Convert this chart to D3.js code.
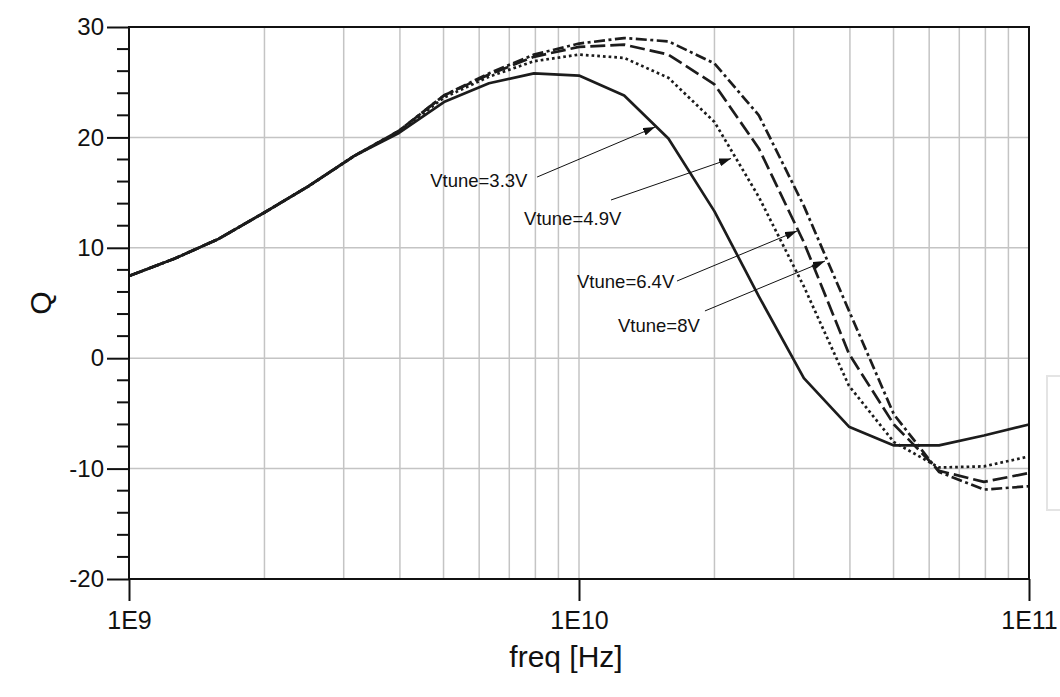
<!DOCTYPE html>
<html>
<head>
<meta charset="utf-8">
<script src="https://cdn.jsdelivr.net/npm/d3@7"></script>
<style>
  html, body { margin: 0; padding: 0; background: #fff; }
  svg { display: block; font-family: Arial, "Liberation Sans", Helvetica, sans-serif; }
</style>
</head>
<body>
<svg id="chart" width="1060" height="697"></svg>
<script>
// Sweep frequencies (Hz), 10 points per decade
const freqs = [1e9, 1.26e9, 1.58e9, 2e9, 2.51e9, 3.16e9, 3.98e9, 5.01e9, 6.31e9, 7.94e9,
               1e10, 1.26e10, 1.58e10, 2e10, 2.51e10, 3.16e10, 3.98e10, 5.01e10, 6.31e10, 7.94e10, 1e11];

// Quality factor Q for each tuning voltage
const q33 = [7.45, 9.0, 10.8, 13.2, 15.6, 18.3, 20.4, 23.2, 24.9, 25.8, 25.6, 23.8, 19.9, 13.3, 5.6, -1.8, -6.2, -7.9, -7.9, -7.0, -6.0];
const q49 = [7.45, 9.0, 10.8, 13.2, 15.6, 18.3, 20.5, 23.6, 25.5, 26.9, 27.5, 27.2, 25.4, 21.4, 14.6, 6.5, -2.5, -7.6, -9.9, -9.8, -8.9];
const q64 = [7.45, 9.0, 10.8, 13.2, 15.6, 18.3, 20.6, 23.8, 25.7, 27.3, 28.2, 28.4, 27.5, 24.8, 19.0, 10.5, 0.4, -6.0, -10.2, -11.2, -10.4];
const q80 = [7.45, 9.0, 10.8, 13.2, 15.6, 18.3, 20.6, 23.8, 25.8, 27.5, 28.5, 29.0, 28.7, 26.7, 22.0, 13.8, 4.3, -5.1, -10.3, -11.9, -11.6];

// Axis ticks and labels
const yTicks = [30, 20, 10, 0, -10, -20];
const yMinorTicks = [28, 26, 24, 22, 18, 16, 14, 12, 8, 6, 4, 2, -2, -4, -6, -8, -12, -14, -16, -18];
const yGridValues = [20, 10, 0, -10];
const xTicks = [1e9, 1e10, 1e11];
const xTickLabels = ["1E9", "1E10", "1E11"];
const xGridValues = [2e9, 3e9, 4e9, 5e9, 6e9, 7e9, 8e9, 9e9, 1e10, 2e10, 3e10, 4e10, 5e10, 6e10, 7e10, 8e10, 9e10];

// Curve annotations: arrow tip, arrow tail and label anchor in (freq, Q)
const annLabels = ["Vtune=3.3V", "Vtune=4.9V", "Vtune=6.4V", "Vtune=8V"];
const annTip  = [[1.476e10, 20.94], [2.177e10, 18.09], [3.051e10, 11.52], [3.52e10, 8.80]];
const annTail = [[8.07e9, 16.41], [1.178e10, 14.33], [1.651e10, 6.99], [1.905e10, 4.28]];
const annText = [[4.67e9, 15.51], [7.55e9, 12.07], [9.9e9, 6.36], [1.221e10, 2.37]];

const series = [
  { values: q33, dash: null },
  { values: q49, dash: "2.7,3" },
  { values: q64, dash: "15,5" },
  { values: q80, dash: "11,3.5,3,3.5" }
];

const svg = d3.select("#chart");
const plotLeft = 129, plotRight = 1029, plotTop = 27, plotBottom = 579;

const x = d3.scaleLog().domain([1e9, 1e11]).range([plotLeft, plotRight]);
const y = d3.scaleLinear().domain([-20, 30]).range([plotBottom, plotTop]);

// Partially visible legend frame at the right edge
svg.append("rect")
  .attr("x", 1047).attr("y", 376).attr("width", 40).attr("height", 134)
  .attr("fill", "#fff").attr("stroke", "#e4e4e4").attr("stroke-width", 2);

// Grid
const grid = svg.append("g").attr("stroke", "#c4c4c4").attr("stroke-width", 1.5);
grid.selectAll("line.v").data(xGridValues).join("line")
  .attr("class", "v")
  .attr("x1", d => x(d)).attr("x2", d => x(d))
  .attr("y1", plotTop).attr("y2", plotBottom);
grid.selectAll("line.h").data(yGridValues).join("line")
  .attr("class", "h")
  .attr("x1", plotLeft).attr("x2", plotRight)
  .attr("y1", d => y(d)).attr("y2", d => y(d));

// Q curves
const line = d3.line().x((d, i) => x(freqs[i])).y(d => y(d));
svg.append("g").selectAll("path").data(series).join("path")
  .attr("d", d => line(d.values))
  .attr("fill", "none")
  .attr("stroke", "#1c1c1c")
  .attr("stroke-width", 2.7)
  .attr("stroke-linejoin", "round")
  .attr("stroke-dasharray", d => d.dash);

// Frame
svg.append("rect")
  .attr("x", plotLeft).attr("y", plotTop)
  .attr("width", plotRight - plotLeft).attr("height", plotBottom - plotTop)
  .attr("fill", "none").attr("stroke", "#111").attr("stroke-width", 2);

// Y axis
const yAxis = svg.append("g")
  .attr("transform", `translate(${plotLeft},0)`)
  .call(d3.axisLeft(y).tickValues(yTicks).tickSize(22).tickSizeOuter(0).tickPadding(3)
        .tickFormat(d => String(d)));
yAxis.select(".domain").remove();
yAxis.selectAll(".tick line").attr("stroke", "#111").attr("stroke-width", 2);
yAxis.selectAll(".tick text").attr("font-size", 24).attr("fill", "#111")
  .attr("font-family", "Arial, 'Liberation Sans', sans-serif");

svg.append("g").selectAll("line").data(yMinorTicks).join("line")
  .attr("x1", plotLeft - 12).attr("x2", plotLeft)
  .attr("y1", d => y(d)).attr("y2", d => y(d))
  .attr("stroke", "#111").attr("stroke-width", 2);

// X axis
const xAxis = svg.append("g")
  .attr("transform", `translate(0,${plotBottom})`)
  .call(d3.axisBottom(x).tickValues(xTicks).tickSize(22).tickSizeOuter(0).tickPadding(10)
        .tickFormat((d, i) => xTickLabels[i]));
xAxis.select(".domain").remove();
xAxis.selectAll(".tick line").attr("stroke", "#111").attr("stroke-width", 2);
xAxis.selectAll(".tick text").attr("font-size", 25).attr("fill", "#111")
  .attr("font-family", "Arial, 'Liberation Sans', sans-serif");

// Axis titles
svg.append("text")
  .attr("transform", "translate(40,303) rotate(-90)")
  .attr("text-anchor", "middle").attr("dy", "0.35em")
  .attr("font-size", 30).attr("fill", "#111")
  .text("Q");
svg.append("text")
  .attr("x", 566).attr("y", 667)
  .attr("text-anchor", "middle")
  .attr("font-size", 30).attr("fill", "#111")
  .text("freq [Hz]");

// Arrow annotations
svg.append("defs").append("marker")
  .attr("id", "arrowhead")
  .attr("markerUnits", "userSpaceOnUse")
  .attr("viewBox", "0 0 12 8")
  .attr("refX", 12).attr("refY", 4)
  .attr("markerWidth", 12).attr("markerHeight", 8)
  .attr("orient", "auto")
  .append("path").attr("d", "M0,0 L12,4 L0,8 Z").attr("fill", "#111");

const ann = svg.append("g");
annLabels.forEach((label, i) => {
  ann.append("line")
    .attr("x1", x(annTail[i][0])).attr("y1", y(annTail[i][1]))
    .attr("x2", x(annTip[i][0])).attr("y2", y(annTip[i][1]))
    .attr("stroke", "#111").attr("stroke-width", 1)
    .attr("marker-end", "url(#arrowhead)");
  ann.append("text")
    .attr("x", x(annText[i][0])).attr("y", y(annText[i][1]))
    .attr("font-size", 18.5).attr("fill", "#111")
    .text(label);
});
</script>
</body>
</html>
